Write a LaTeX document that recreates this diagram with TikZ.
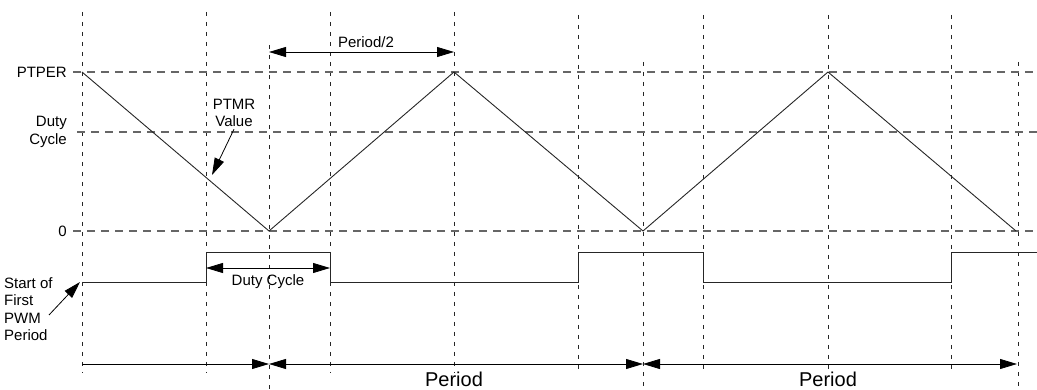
\documentclass[tikz,border=0pt]{standalone}
\usepackage{fontspec}
\setmainfont{Liberation Sans}
\usetikzlibrary{arrows.meta,positioning}

\begin{document}
\begin{tikzpicture}[x=1pt, y=-1pt,
  vgrid/.style={black!85, line width=0.9pt, dash pattern=on 4pt off 6pt},
  hgrid/.style={black!60, line width=1.1pt, dash pattern=on 8pt off 6pt},
  wave/.style={black!85, line width=0.9pt},
  dim/.style={black, line width=0.8pt, {Triangle[length=17pt,width=10pt]}-{Triangle[length=17pt,width=10pt]}},
  ptr/.style={black, line width=0.8pt, -{Triangle[length=17pt,width=10pt]}},
  label/.style={font=\fontsize{15}{17.5}\selectfont, inner sep=0pt},
  biglabel/.style={font=\fontsize{20}{22}\selectfont, inner sep=0pt},
]
\useasboundingbox (0,0) rectangle (1037,390);

% vertical markers
\foreach \x/\top/\bot in {82/12/373, 206/12/373, 269/45/390, 330/12/373,
                          454/12/373, 578/15/373, 643/62/390, 703/15/373,
                          828/15/373, 951/15/373, 1018/62/390} {
  \draw[vgrid] (\x,\top) -- (\x,\bot);
}

% levels
\coordinate (per) at (73,72);   \coordinate (perE) at (1037,72);
\coordinate (duty) at (77,132); \coordinate (dutyE) at (1037,132);
\coordinate (zero) at (73,231); \coordinate (zeroE) at (1037,231);
\draw[hgrid] (per) -- (perE);
\draw[hgrid] (duty) -- (dutyE);
\draw[hgrid] (zero) -- (zeroE);

\node[label, anchor=east] (ptper) at (67,72) {PTPER};
\node[label, anchor=east, align=right] (dutylbl) at (67,132) {Duty\\Cycle};
\node[label, anchor=east] (zerolbl) at (67,231) {0};

% PTMR triangle
\coordinate (t0) at (82,72);
\coordinate (t1) at (269,231);
\coordinate (t2) at (454,72);
\coordinate (t3) at (643,231);
\coordinate (t4) at (828,72);
\coordinate (t5) at (1016,231);
\draw[wave] (t0) -- (t1) -- (t2) -- (t3) -- (t4) -- (t5);

\node[label, align=center] (ptmr) at (234,113) {PTMR\\Value};
\coordinate (ptmrtip) at (212,175);
\draw[ptr] (ptmr.south) ++(0,2) -- (ptmrtip);

% PWM output
\coordinate (p0) at (82,282);
\draw[wave] (p0) -- (206,282) -- (206,252) -- (330,252) -- (330,282)
  -- (578,282) -- (578,252) -- (703,252) -- (703,282)
  -- (951,282) -- (951,252) -- (1037,252);

\node[label, anchor=west, align=left] (start) at (4,309) {Start of\\First\\PWM\\Period};
\coordinate (starttail) at (49,315);
\coordinate (starttip) at (80,282);
\draw[ptr] (starttail) -- (starttip);

% Period/2
\coordinate (h0) at (269,52);
\coordinate (h1) at (454,52);
\draw[dim] (h0) -- (h1);
\node[label] (half) at (366,42) {Period/2};

% duty cycle
\coordinate (d0) at (206,268);
\coordinate (d1) at (330,268);
\draw[dim] (d0) -- (d1);
\node[label] (dutyc) at (268,282) {Duty Cycle};

% periods
\coordinate (b0) at (82,364);
\coordinate (b1) at (269,364);
\coordinate (b2) at (643,364);
\coordinate (b3) at (1017,364);
\draw[ptr] (b0) -- (b1);
\draw[dim] (b1) -- (b2);
\draw[dim] (b2) -- (b3);
\node[biglabel] (per1) at (454,379) {Period};
\node[biglabel] (per2) at (828,379) {Period};
\end{tikzpicture}
\end{document}
